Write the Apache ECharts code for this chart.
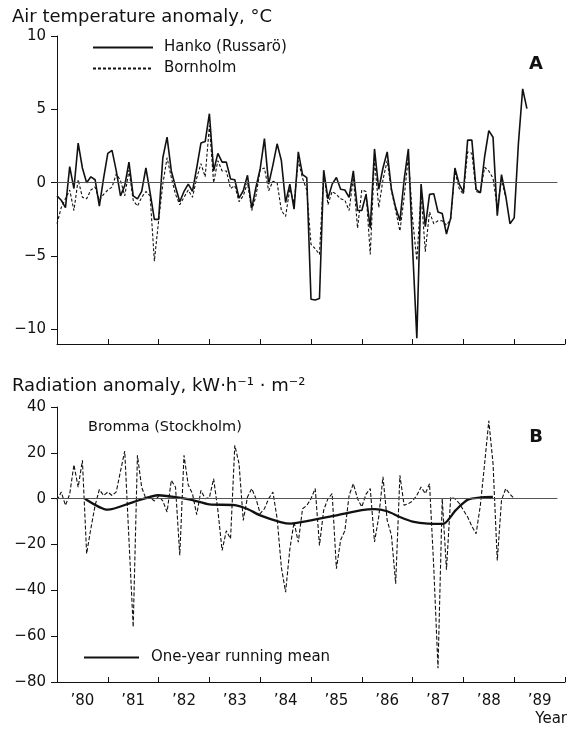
<!DOCTYPE html>
<html><head><meta charset="utf-8">
<script src="https://cdn.jsdelivr.net/npm/echarts@6/dist/echarts.min.js"></script>
<style>html,body{margin:0;padding:0;background:#fff}#c{width:569px;height:731px}</style>
</head><body><div id="c"></div>
<script>
const FONT = 'DejaVu Sans';
const INK = '#111';
const startYear = 1980;
const tickYears = [1980,1981,1982,1983,1984,1985,1986,1987,1988,1989,1990];
const labelYears = [1980.5,1981.5,1982.5,1983.5,1984.5,1985.5,1986.5,1987.5,1988.5,1989.5];
const tickLabels = ["’80","’81","’82","’83","’84","’85","’86","’87","’88","’89"];
const tempTicks = [-10,-5,0,5,10];

// Panel A: monthly air temperature anomaly (°C), from Jan 1980
const hankoTemp = [
  -0.9,-1.2,-1.7,1.1,-0.4,2.7,1.0,0.0,0.4,0.2,-1.6,0.3,
  2.0,2.2,0.8,-0.9,-0.2,1.4,-0.9,-1.1,-0.6,1.0,-0.7,-2.5,
  -2.5,1.7,3.1,0.8,-0.3,-1.3,-0.6,-0.1,-0.6,1.0,2.7,2.8,
  4.7,0.8,2.0,1.4,1.4,0.25,0.2,-1.05,-0.55,0.5,-1.75,-0.3,
  0.95,3.0,-0.1,1.2,2.65,1.5,-1.35,-0.1,-1.8,2.1,0.55,0.35,
  -7.95,-8.0,-7.9,0.85,-1.1,-0.1,0.35,-0.45,-0.5,-1.0,0.8,-1.9,-1.9,
  -0.8,-3.1,2.3,-0.45,1.0,2.1,-0.45,-1.7,-2.6,0.2,2.3,
  -4.5,-10.6,-0.1,-3.0,-0.8,-0.75,-2.0,-2.1,-3.5,-2.4,1.0,-0.1,
  -0.65,2.9,2.9,-0.45,-0.7,1.75,3.55,3.1,-2.25,0.55,-0.9,-2.8,
  -2.4,2.7,6.4,5.05
];
const bornholmTemp = [
  -2.8,-1.7,-1.1,-0.5,-1.9,0.2,-1.0,-1.1,-0.5,-0.3,-1.2,-0.8,
  -0.5,-0.3,0.6,0.15,-0.9,0.85,-1.2,-1.6,-1.0,-0.6,-0.9,-5.35,
  -2.6,-0.1,1.7,0.35,-0.8,-1.5,-1.0,-0.5,-1.0,0.3,1.3,0.4,
  3.9,0.0,1.5,0.8,0.8,-0.4,-0.2,-1.3,-0.9,0.0,-1.9,-0.9,
  0.9,1.0,-0.55,0.1,0.0,-1.9,-2.3,-0.4,-1.4,1.5,0.3,-0.5,
  -4.2,-4.5,-4.9,0.7,-1.5,-0.6,-0.8,-1.1,-1.2,-1.9,0.35,-3.1,-0.5,
  -0.6,-4.9,1.6,-1.7,0.2,1.5,-0.55,-1.9,-3.3,-1.0,1.8,
  -2.5,-5.3,-0.7,-4.7,-2.0,-2.8,-2.6,-2.6,-2.9,-2.5,0.8,-0.4,
  -0.8,2.1,2.0,-0.6,-0.7,1.05,0.8,0.3,-1.7,0.2,-1.0
];
// Panel B: monthly radiation anomaly, Bromma (Stockholm), from Jan 1980
const brommaRadiation = [
  -0.7,2.9,-2.9,2,14.8,5,16.7,-24,-13,-3,4,1.4,
  2.9,1.4,3,12,20.8,-18,-56,18.9,5,0,0.5,-1,
  1,-1,-5.8,8,5,-24.7,18.9,6,2.2,-7,3.6,0,
  0.5,8.7,-5,-22.6,-14,-17.5,23.3,15.3,-9.5,0.7,4.4,0,
  -6.5,-4.4,0,2.9,-8.7,-30,-40.8,-22,-10.2,-19,-4.4,-3,
  0,4.4,-20.4,-5,0,2.2,-30.6,-18,-14,1.4,6.5,0,
  -3.6,2,4.4,-18.9,-8,9.5,-9.5,-16,-37.1,10.2,-2.9,-2.2,
  -1,1.5,5.1,2.2,6.5,-30,-74,0,-31,0.7,0,-2,
  -5,-8,-12,-15.3,-3,15,34,15.3,-27,-0.7,4.4,2,
  0
];
const runMeanYears = [1980.55,1981.0,1981.5,1982.0,1982.3,1982.65,1983.0,1983.5,1983.75,1984.0,1984.4,1984.6,1985.0,1985.5,1986.0,1986.25,1986.5,1986.75,1987.0,1987.3,1987.6,1987.85,1988.1,1988.58];
const runMeanValues = [0,-4.8,-1.5,1.5,0.8,-0.5,-2.5,-2.8,-4.5,-7.3,-10.2,-10.9,-9.5,-7.3,-5.0,-4.6,-5.5,-8.0,-10.0,-10.9,-11.0,-5.0,-0.3,0.8];

function monthly(values){ return values.map((v,i)=>[startYear + i/12, v]); }
const labelMap = {}; labelYears.forEach((y,i)=>{ labelMap[y] = tickLabels[i]; });
const minus = v => String(v).replace('-', '\u2212');

function xAxisCfg(gridIndex, showLabels){
  return {type:'value', gridIndex, min:1980, max:1990,
    axisLine:{show:true, onZero:false, lineStyle:{color:INK, width:1}},
    axisTick:{show:true, inside:true, length:5, customValues:tickYears, lineStyle:{color:INK, width:1}},
    axisLabel:{show:showLabels, customValues:labelYears, formatter:v=>labelMap[v] || '', margin:12,
      fontFamily:FONT, fontSize:15, color:INK},
    splitLine:{show:false}};
}
const zeroLine = {silent:true, symbol:['none','none'], label:{show:false}, animation:false,
  lineStyle:{color:'#555', width:1, type:'solid'},
  emphasis:{disabled:true},
  data:[[{coord:[1980,0]},{coord:[1989.85,0]}]]};
const noSymbol = {color:'rgba(0,0,0,0)', borderWidth:0, opacity:0};

const chart = echarts.init(document.getElementById('c'), null, {renderer:'canvas'});
chart.setOption({
  animation:false,
  backgroundColor:'#fff',
  textStyle:{fontFamily:FONT},
  grid:[
    {left:57, top:36, width:508, height:308},
    {left:57, top:407, width:508, height:275}
  ],
  xAxis:[xAxisCfg(0,false), xAxisCfg(1,true)],
  yAxis:[
    {type:'value', gridIndex:0, min:-11, max:10,
      axisLine:{show:true, onZero:false, lineStyle:{color:INK, width:1}},
      axisTick:{show:true, inside:false, length:6, customValues:tempTicks, lineStyle:{color:INK}},
      axisLabel:{customValues:tempTicks, formatter:minus, margin:11, fontFamily:FONT, fontSize:15, color:INK},
      splitLine:{show:false}},
    {type:'value', gridIndex:1, min:-80, max:40, interval:20,
      axisLine:{show:true, onZero:false, lineStyle:{color:INK, width:1}},
      axisTick:{show:true, inside:false, length:6, lineStyle:{color:INK}},
      axisLabel:{formatter:minus, margin:11, fontFamily:FONT, fontSize:15, color:INK},
      splitLine:{show:false}}
  ],
  legend:[
    {data:['Hanko (Russarö)','Bornholm'], orient:'vertical', left:87, top:35, itemWidth:60, itemHeight:14, itemGap:6,
      selectedMode:false, itemStyle:noSymbol,
      textStyle:{fontFamily:FONT, fontSize:15, color:INK, padding:[0,0,0,6]}},
    {data:['One-year running mean'], orient:'vertical', left:78, top:645, itemWidth:55, itemHeight:14,
      selectedMode:false, itemStyle:noSymbol,
      textStyle:{fontFamily:FONT, fontSize:15, color:INK, padding:[0,0,0,7]}}
  ],
  series:[
    {name:'Hanko (Russarö)', type:'line', xAxisIndex:0, yAxisIndex:0, data:monthly(hankoTemp),
      symbol:'none', lineStyle:{color:INK, width:1.6}, itemStyle:{color:INK}, z:3, markLine:zeroLine},
    {name:'Bornholm', type:'line', xAxisIndex:0, yAxisIndex:0, data:monthly(bornholmTemp),
      symbol:'none', lineStyle:{color:INK, width:1.1, type:[3,2]}, itemStyle:{color:INK}, z:2},
    {name:'Bromma (Stockholm)', type:'line', xAxisIndex:1, yAxisIndex:1, data:monthly(brommaRadiation),
      symbol:'none', lineStyle:{color:INK, width:1.1, type:[4,2]}, itemStyle:{color:INK}, z:2, markLine:zeroLine},
    {name:'One-year running mean', type:'line', xAxisIndex:1, yAxisIndex:1,
      data:runMeanYears.map((y,i)=>[y, runMeanValues[i]]), smooth:0.25,
      symbol:'none', lineStyle:{color:INK, width:2.3}, itemStyle:{color:INK}, z:4}
  ],
  graphic:[
    {type:'text', x:12, y:17, style:{text:'Air temperature anomaly, °C', fontFamily:FONT, fontSize:18, fill:INK, verticalAlign:'middle'}},
    {type:'text', x:12, y:386, style:{text:'Radiation anomaly, kW·h⁻¹ · m⁻²', fontFamily:FONT, fontSize:18, fill:INK, verticalAlign:'middle'}},
    {type:'text', x:536, y:64, style:{text:'A', fontFamily:FONT, fontSize:18, fontWeight:'bold', fill:INK, align:'center', verticalAlign:'middle'}},
    {type:'text', x:536, y:437, style:{text:'B', fontFamily:FONT, fontSize:18, fontWeight:'bold', fill:INK, align:'center', verticalAlign:'middle'}},
    {type:'text', x:88, y:427, style:{text:'Bromma (Stockholm)', fontFamily:FONT, fontSize:14.5, fill:INK, verticalAlign:'middle'}},
    {type:'text', x:567, y:719, style:{text:'Year', fontFamily:FONT, fontSize:15, fill:INK, align:'right', verticalAlign:'middle'}}
  ]
});
</script></body></html>
